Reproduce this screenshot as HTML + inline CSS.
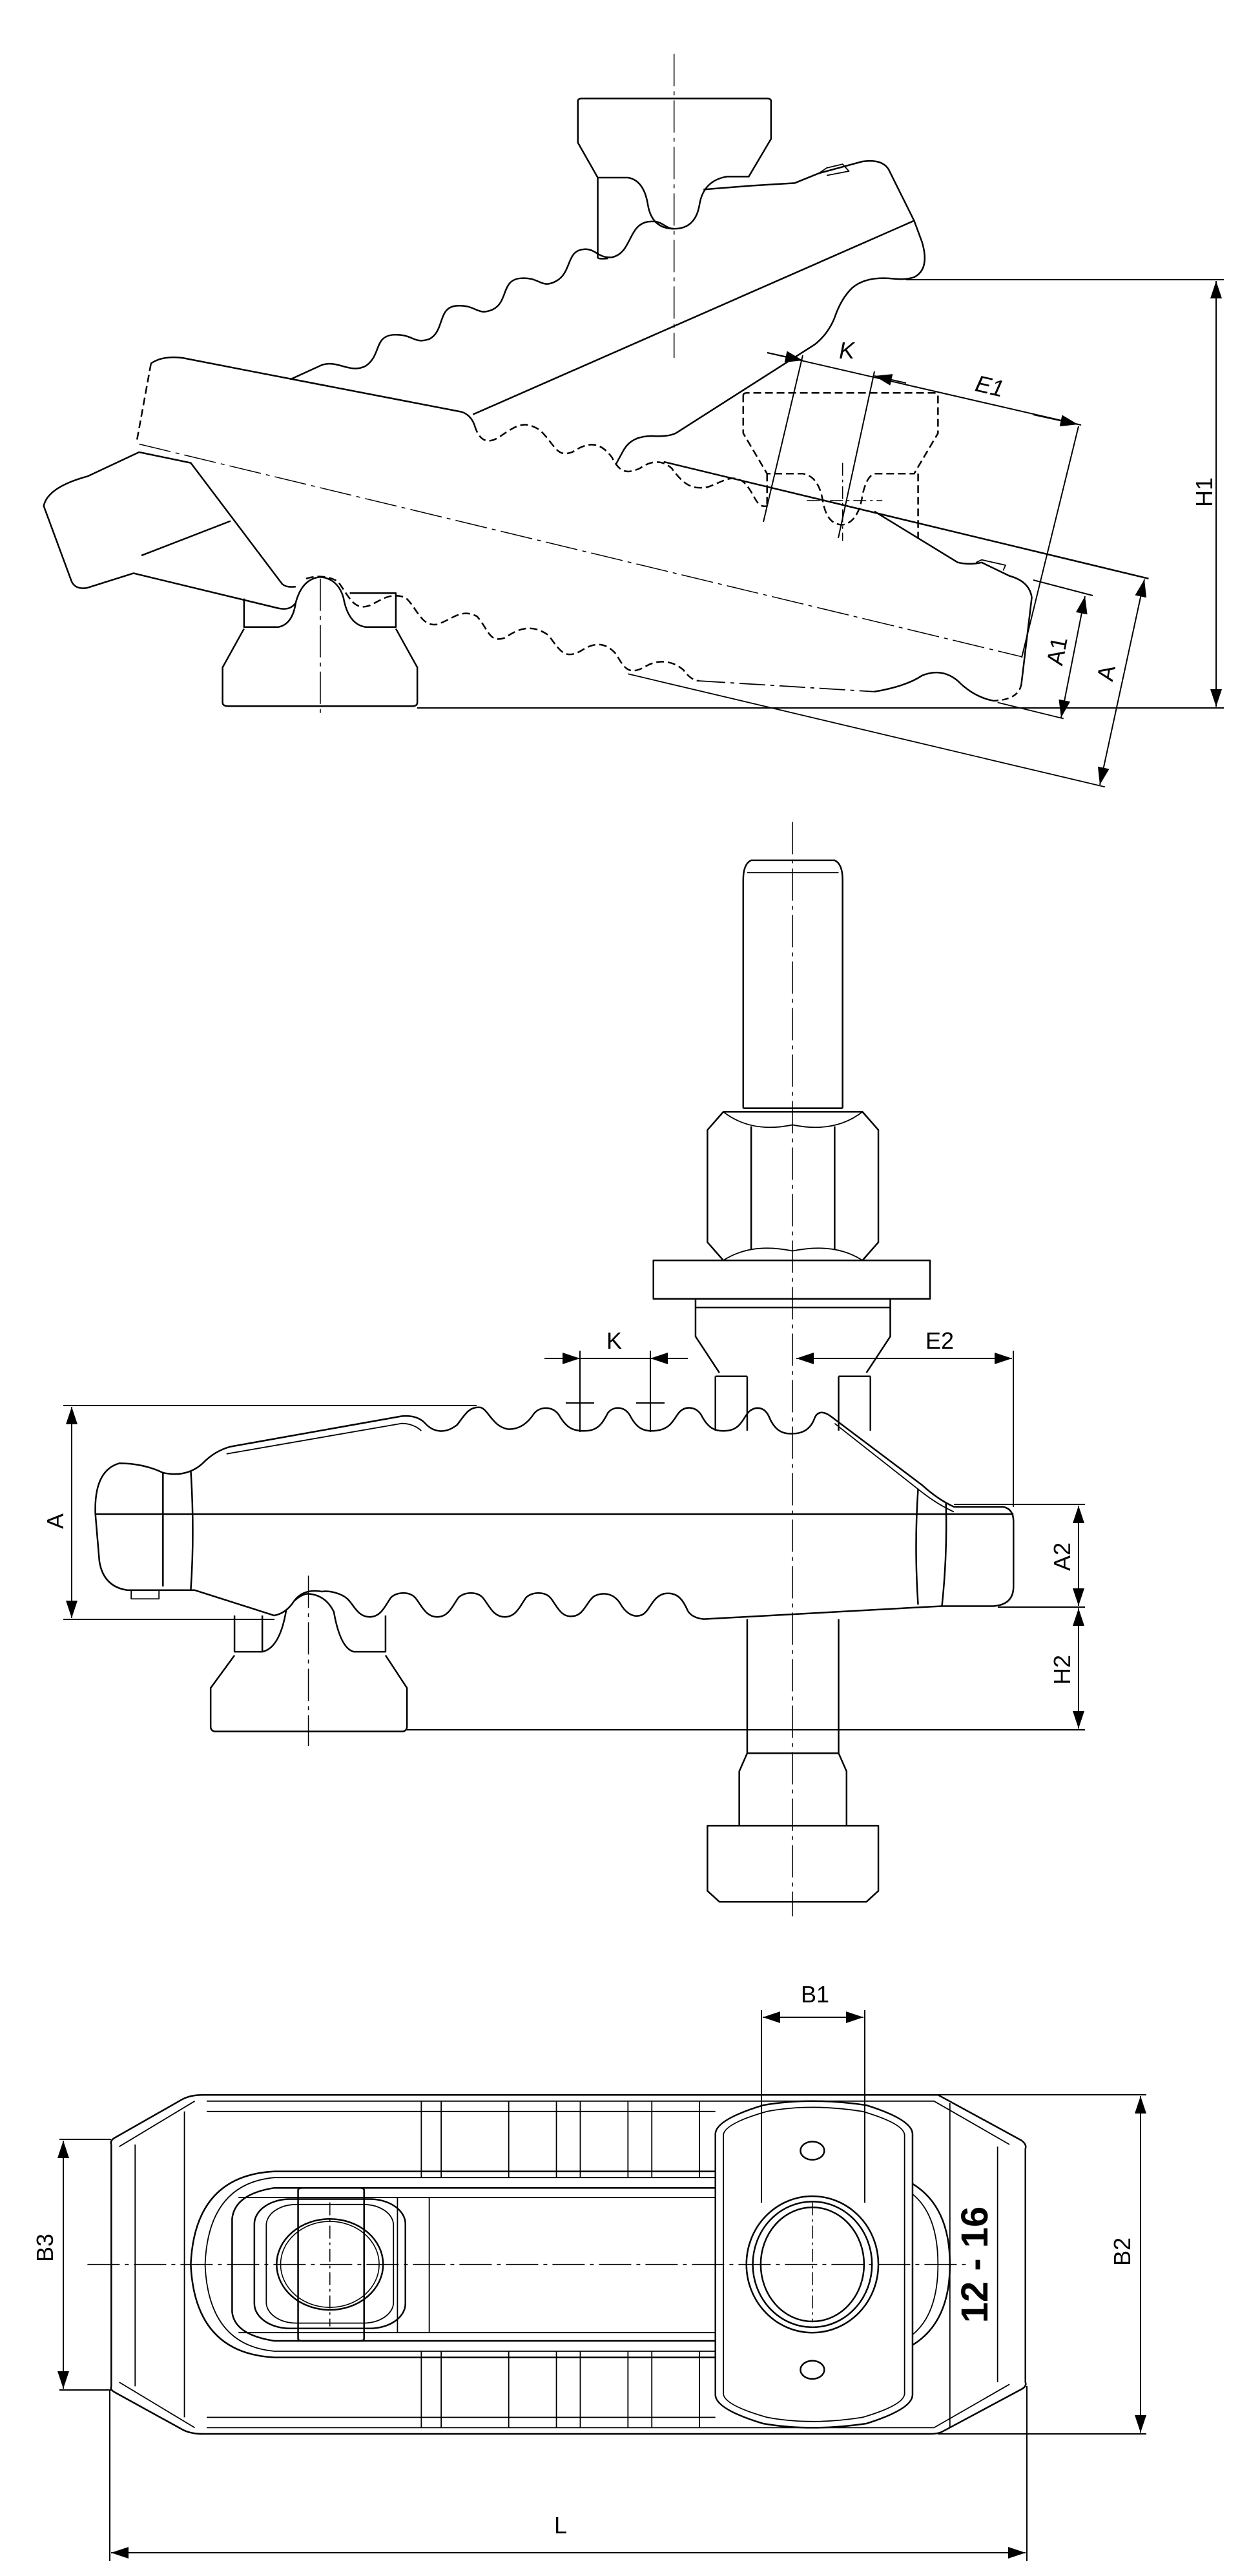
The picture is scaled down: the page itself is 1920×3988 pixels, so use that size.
<!DOCTYPE html>
<html><head><meta charset="utf-8"><style>
html,body{margin:0;padding:0;background:#fff;}
svg{display:block;}
text{font-family:"Liberation Sans",sans-serif;fill:#000;}
g.s *{vector-effect:non-scaling-stroke;}
</style></head><body>
<svg width="1920" height="3988" viewBox="0 0 1920 3988" xmlns="http://www.w3.org/2000/svg">
<defs>
<marker id="ar" viewBox="0 0 12 8" refX="12" refY="4" markerWidth="14" markerHeight="9" orient="auto-start-reverse" markerUnits="strokeWidth"><path d="M0,0 L12,4 L0,8 z" fill="#000"/></marker>
</defs>
<rect width="1920" height="3988" fill="#fff"/>

<!-- SECTION 1 -->
<g class="s" transform="matrix(1.2308 0 0 0.8333 0 0)" fill="none" stroke="#000" stroke-width="2.5" stroke-linejoin="round">
 <path d="M727,188 Q727,183 732,183 H965 Q970,183 970,188 V258 L942,328 H915 Q885,335 880,380 Q875,425 848,425 Q820,425 815,380 Q810,335 790,330 H752 L727,265 Z"/>
 <path d="M752,330 V478 Q752,482 765,480"/>
 <line x1="848" y1="100" x2="848" y2="665" stroke-width="1.5" stroke-dasharray="50,8,6,8"/>
 <path d="M365,705 L405,678 C425,668 440,695 460,680 C480,660 470,625 495,622 C520,620 520,640 540,630 C560,615 550,570 575,568 C600,566 600,588 620,575 C640,560 630,520 655,517 C680,514 680,538 700,522 C720,505 712,465 735,463 C750,462 752,480 770,478 C795,470 790,418 815,412 C835,408 835,425 848,425"/>
 <path d="M885,352 L945,345 L1000,340 L1030,322 L1085,300 Q1110,295 1118,315 L1150,410 L1160,450 Q1170,500 1150,515 Q1140,520 1125,518 Q1090,512 1072,535 Q1058,555 1050,590 Q1042,620 1025,640 L850,805 Q840,812 820,810 Q795,810 785,835 L775,862"/>
 <path d="M1030,322 L1040,312 L1060,305 L1068,318 L1040,326" stroke-width="1.8"/>
 <line x1="595" y1="770" x2="1150" y2="410"/>
 <path d="M310,688 L580,765 Q592,770 597,790"/>
 <path d="M597,790 C605,830 620,820 630,810 C650,790 660,780 680,800 C700,830 700,850 720,840 C740,820 755,820 770,850 C780,880 790,880 805,870 C815,860 830,850 845,870 C860,900 870,910 890,905 C910,895 920,880 935,895 C950,915 950,945 965,940" stroke-dasharray="12,6"/>
 <path d="M190,675 Q205,660 230,665 L310,688"/>
 <path d="M190,675 L172,820" stroke-dasharray="12,6"/>
 <path d="M175,840 L110,885 Q60,905 55,940 L90,1080 Q95,1096 110,1092 L168,1065 L350,1130 Q365,1135 372,1120"/>
 <path d="M175,840 L240,860 L355,1085 Q360,1092 372,1090"/>
 <line x1="290" y1="968" x2="178" y2="1032"/>
 <line x1="175" y1="825" x2="1285" y2="1220" stroke-width="1.5" stroke-dasharray="50,8,6,8"/>
 <line x1="835" y1="858" x2="1445" y2="1075"/>
 <path d="M1100,950 L1205,1045 Q1220,1050 1235,1045 L1270,1070 Q1295,1080 1298,1110 L1285,1270"/>
 <path d="M1285,1270 Q1282,1300 1250,1302" stroke-dasharray="10,6"/>
 <path d="M1228,1045 L1235,1040 L1265,1050 L1262,1060" stroke-width="1.8"/>
 <path d="M385,1075 C395,1070 410,1068 425,1080 C440,1110 445,1135 465,1125 C480,1115 490,1100 510,1110 C525,1130 530,1165 550,1160 C570,1150 580,1130 600,1145 C615,1170 615,1195 635,1185 C655,1165 670,1160 690,1180 C705,1210 710,1225 730,1210 C745,1195 760,1190 775,1215 C785,1240 790,1255 810,1240 C825,1225 845,1225 860,1245 Q870,1265 880,1265" stroke-dasharray="12,6"/>
 <path d="M880,1265 L1100,1285" stroke-width="1.8" stroke-dasharray="40,8,6,8"/>
 <path d="M1100,1285 Q1140,1275 1160,1255 Q1185,1240 1205,1265 Q1225,1295 1250,1302"/>
 <line x1="790" y1="1252" x2="1390" y2="1462" stroke-width="1.8"/>
 <line x1="1255" y1="1305" x2="1338" y2="1335" stroke-width="1.8"/>
 <path d="M935,735 Q935,730 940,730 H1175 Q1180,730 1180,735 V805 L1150,880 H1100 Q1090,885 1085,920 Q1080,970 1060,975 Q1040,975 1035,930 Q1030,885 1010,880 H965 L935,805 Z" stroke-dasharray="12,6"/>
 <path d="M965,880 V940 M1155,880 V1000" stroke-dasharray="12,6"/>
 <line x1="1060" y1="860" x2="1060" y2="1005" stroke-width="1.5" stroke-dasharray="20,6,4,6"/>
 <line x1="1015" y1="930" x2="1110" y2="930" stroke-width="1.5" stroke-dasharray="20,6,4,6"/>
 <path d="M372,1120 Q380,1075 403,1072 Q425,1075 432,1110 Q438,1160 460,1165 H498 V1102 H440"/>
 <path d="M372,1120 Q368,1160 350,1165 H307 V1112"/>
 <path d="M307,1168 L280,1240 V1305 Q280,1312 288,1312 H518 Q525,1312 525,1305 V1240 L498,1168"/>
 <line x1="403" y1="1075" x2="403" y2="1325" stroke-width="1.5" stroke-dasharray="50,8,6,8"/>
</g>
<g fill="none" stroke="#000" stroke-width="2">
 <line x1="1403" y1="433" x2="1895" y2="433"/>
 <line x1="646" y1="1096" x2="1895" y2="1096"/>
 <line x1="1883" y1="435" x2="1883" y2="1094" marker-start="url(#ar)" marker-end="url(#ar)"/>
 <line x1="1188" y1="546" x2="1674" y2="658"/>
 <line x1="1188" y1="546" x2="1243" y2="558" marker-end="url(#ar)"/>
 <line x1="1403" y1="593" x2="1354" y2="582" marker-end="url(#ar)"/>
 <line x1="1600" y1="642" x2="1669" y2="657" marker-end="url(#ar)"/>
 <line x1="1243" y1="550" x2="1182" y2="808"/>
 <line x1="1354" y1="575" x2="1298" y2="833"/>
 <line x1="1670" y1="660" x2="1582" y2="1018"/>
 <line x1="1600" y1="898" x2="1692" y2="922"/>
 <line x1="1680" y1="923" x2="1643" y2="1111" marker-start="url(#ar)" marker-end="url(#ar)"/>
 <line x1="1772" y1="897" x2="1703" y2="1215" marker-start="url(#ar)" marker-end="url(#ar)"/>
</g>
<g font-size="36">
 <text x="1865" y="762" text-anchor="middle" transform="rotate(-90 1865 762)" dy="12">H1</text>
 <text x="1311" y="555" text-anchor="middle" font-style="italic">K</text>
 <text x="1532" y="610" text-anchor="middle" font-style="italic" transform="rotate(13 1532 600)">E1</text>
 <text x="1637" y="1008" text-anchor="middle" dy="12" transform="rotate(-79 1637 1008)">A1</text>
 <text x="1713" y="1042" text-anchor="middle" dy="12" transform="rotate(-79 1713 1042)">A</text>
</g>

<!-- SECTION 2 -->
<g class="s" transform="matrix(1.2308 0 0 1.122 0 1250)" fill="none" stroke="#000" stroke-width="2.5" stroke-linejoin="round">
 <line x1="997" y1="20" x2="997" y2="1530" stroke-width="1.5" stroke-dasharray="50,8,6,8"/>
 <path d="M935,415 V100 Q935,78 945,73 H1050 Q1060,78 1060,100 V415"/>
 <line x1="940" y1="90" x2="1055" y2="90" stroke-width="1.8"/>
 <path d="M935,415 H1060"/>
 <path d="M890,445 L910,420 H1085 L1105,445 V600 L1085,625 H910 L890,600 Z"/>
 <path d="M945,440 V610 M1050,440 V610"/>
 <path d="M910,420 Q945,450 997,438 Q1050,450 1085,420 M910,625 Q945,600 997,612 Q1050,600 1085,625" stroke-width="1.8"/>
 <rect x="822" y="625" width="348" height="53"/>
 <path d="M875,678 V730 L905,780 M1120,678 V730 L1090,780 M875,690 H1120"/>
 <path d="M900,785 V860 M940,785 V860 M1055,785 V860 M1095,785 V860 M900,785 H940 M1055,785 H1095"/>
 <path d="M120,975 Q118,915 150,905 Q180,905 205,918 Q235,925 255,905 Q270,888 290,882 L505,840 Q525,838 535,850 C545,862 560,865 575,852 C585,838 590,826 605,828 C615,832 620,855 640,858 C655,858 665,848 672,836 C680,826 695,826 703,838 C712,855 720,862 740,860 C755,858 760,845 765,835 C772,826 785,826 792,838 C800,855 808,862 825,860 C845,858 848,842 855,834 C862,826 875,826 882,838 C890,855 898,862 915,860 C932,858 935,842 942,834 C950,826 962,826 968,842 C975,860 985,865 997,864 C1010,864 1020,858 1025,842 C1030,830 1040,836 1045,840 L1160,935 Q1180,955 1200,965 H1262 Q1275,968 1275,985 V1075 Q1275,1100 1250,1102 L1185,1102 L885,1120 Q870,1118 865,1108 C858,1090 850,1082 835,1085 C820,1090 818,1108 808,1114 C795,1120 785,1108 780,1098 C772,1085 760,1082 748,1088 C738,1095 735,1115 720,1116 C705,1118 700,1100 692,1090 C685,1082 670,1082 662,1090 C655,1100 650,1117 635,1117 C620,1117 615,1100 607,1090 C600,1082 585,1082 577,1090 C570,1100 565,1117 550,1117 C535,1117 530,1100 522,1090 C515,1082 500,1082 492,1090 C485,1100 480,1117 465,1117 C450,1117 445,1100 437,1092 C430,1085 415,1080 405,1082 C395,1080 380,1080 370,1095 Q360,1112 345,1115 L245,1080 Q200,1080 160,1080 Q130,1075 125,1040 Z"/>
 <path d="M285,892 L505,850 Q520,850 530,860" stroke-width="1.8"/>
 <path d="M1050,850 L1160,945 Q1180,962 1200,972" stroke-width="1.8"/>
 <line x1="120" y1="975" x2="1275" y2="975"/>
 <path d="M205,918 Q205,1000 205,1075 M240,915 Q245,1000 240,1080 M1155,940 Q1150,1020 1155,1100 M1190,960 Q1192,1030 1185,1102"/>
 <path d="M165,1080 L165,1092 L200,1092 L200,1080" stroke-width="1.8"/>
 <path d="M370,1095 Q380,1085 388,1085 Q410,1087 420,1110 Q428,1160 445,1165 H485 V1115 M330,1115 V1165 H295 V1115 M330,1165 Q352,1160 360,1108"/>
 <path d="M295,1170 L265,1215 V1268 Q265,1275 272,1275 H505 Q512,1275 512,1268 V1215 L485,1170"/>
 <line x1="388" y1="1060" x2="388" y2="1295" stroke-width="1.5" stroke-dasharray="50,8,6,8"/>
 <path d="M940,1120 V1305 L930,1330 V1405 H890 V1495 L905,1510 H1090 L1105,1495 V1405 H1065 V1330 L1055,1305 V1120"/>
 <path d="M940,1305 H1055 M930,1405 H1065"/>
</g>
<g fill="none" stroke="#000" stroke-width="2">
 <line x1="98" y1="2176" x2="738" y2="2176"/>
 <line x1="98" y1="2507" x2="425" y2="2507"/>
 <line x1="111" y1="2178" x2="111" y2="2505" marker-start="url(#ar)" marker-end="url(#ar)"/>
 <line x1="843" y1="2103" x2="898" y2="2103" marker-end="url(#ar)"/>
 <line x1="898" y1="2103" x2="1007" y2="2103"/>
 <line x1="1065" y1="2103" x2="1007" y2="2103" marker-end="url(#ar)"/>
 <line x1="898" y1="2091" x2="898" y2="2217"/><line x1="1007" y1="2091" x2="1007" y2="2217"/>
 <line x1="876" y1="2172" x2="920" y2="2172"/><line x1="985" y1="2172" x2="1029" y2="2172"/>
 <line x1="1233" y1="2103" x2="1567" y2="2103" marker-start="url(#ar)" marker-end="url(#ar)"/>
 <line x1="1569" y1="2091" x2="1569" y2="2333"/>
 <line x1="1477" y1="2329" x2="1680" y2="2329"/>
 <line x1="1545" y1="2488" x2="1680" y2="2488"/>
 <line x1="630" y1="2678" x2="1680" y2="2678"/>
 <line x1="1670" y1="2331" x2="1670" y2="2486" marker-start="url(#ar)" marker-end="url(#ar)"/>
 <line x1="1670" y1="2490" x2="1670" y2="2676" marker-start="url(#ar)" marker-end="url(#ar)"/>
</g>
<g font-size="36">
 <text x="951" y="2088" text-anchor="middle">K</text>
 <text x="1455" y="2088" text-anchor="middle">E2</text>
 <text x="86" y="2355" text-anchor="middle" dy="12" transform="rotate(-90 86 2355)">A</text>
 <text x="1645" y="2410" text-anchor="middle" dy="12" transform="rotate(-90 1645 2410)">A2</text>
 <text x="1645" y="2585" text-anchor="middle" dy="12" transform="rotate(-90 1645 2585)">H2</text>
</g>

<!-- SECTION 3 -->
<g class="s" transform="matrix(1.2308 0 0 0.64 0 3000)" fill="none" stroke="#000" stroke-width="2.5" stroke-linejoin="round">
 <path d="M255,380 H1180 L1285,490 Q1292,500 1290,510 V1075 Q1292,1085 1285,1092 L1185,1195 Q1180,1200 1170,1200 H255 Q240,1200 230,1190 L145,1100 Q138,1093 140,1085 V500 Q138,490 145,483 L230,390 Q240,380 255,380 Z"/>
 <path d="M260,395 H1175 L1270,500 M260,1185 H1175 L1270,1080 M245,395 L150,505 M245,1185 L150,1075" stroke-width="1.8"/>
 <path d="M140,510 V1075 M170,500 V1085 M1255,505 V1075 M1195,400 V1185" stroke-width="1.8"/>
 <path d="M232,420 V1160 M260,420 H900 M260,1160 H900" stroke-width="1.8"/>
 <g stroke-width="1.8">
 <path d="M530,395 V580 M555,395 V580 M640,395 V580 M700,395 V580 M730,395 V580 M790,395 V580 M820,395 V580 M880,395 V580"/>
 <path d="M530,1000 V1185 M555,1000 V1185 M640,1000 V1185 M700,1000 V1185 M730,1000 V1185 M790,1000 V1185 M820,1000 V1185 M880,1000 V1185"/>
 </g>
 <path d="M905,565 H345 Q245,575 240,790 Q245,1005 345,1015 H905"/>
 <path d="M905,580 H345 Q262,595 258,790 Q262,985 345,1000 H905" stroke-width="1.8"/>
 <path d="M905,605 H345 Q295,620 292,680 V905 Q295,960 345,975 H905"/>
 <path d="M300,628 H905 M300,955 H905 M540,628 V955 M500,628 V955" stroke-width="1.8"/>
 <rect x="320" y="632" width="190" height="313" rx="45" ry="60"/>
 <rect x="335" y="645" width="160" height="287" rx="38" ry="50" stroke-width="1.8"/>
 <rect x="375" y="605" width="83" height="370" rx="5"/>
 <ellipse cx="415" cy="790" rx="67" ry="110"/>
 <ellipse cx="415" cy="790" rx="62" ry="104" stroke-width="1.6"/>
 <line x1="415" y1="640" x2="415" y2="940" stroke-width="1.5" stroke-dasharray="20,6,4,6"/>
 <path d="M1148,595 Q1195,650 1195,790 Q1195,930 1148,985"/>
 <path d="M1148,620 Q1180,670 1180,790 Q1180,910 1148,960" stroke-width="1.8"/>
 <path d="M900,475 Q900,440 960,405 Q1020,385 1090,405 Q1148,440 1148,475 V1105 Q1148,1140 1090,1175 Q1020,1195 960,1175 Q900,1140 900,1105 Z" fill="#fff"/>
 <path d="M910,478 Q910,450 965,420 Q1020,400 1085,420 Q1138,450 1138,478 V1102 Q1138,1130 1085,1160 Q1020,1180 965,1160 Q910,1130 910,1102 Z" stroke-width="1.8"/>
 <ellipse cx="1022" cy="515" rx="15" ry="22"/>
 <ellipse cx="1022" cy="1045" rx="15" ry="22"/>
 <ellipse cx="1022" cy="790" rx="83" ry="165"/>
 <ellipse cx="1022" cy="790" rx="75" ry="152"/>
 <ellipse cx="1022" cy="790" rx="65" ry="138"/>
 <line x1="1022" y1="640" x2="1022" y2="930" stroke-width="1.5" stroke-dasharray="20,6,4,6"/>
 <line x1="110" y1="790" x2="1215" y2="790" stroke-width="1.5" stroke-dasharray="50,8,6,8"/>
</g>
<g fill="none" stroke="#000" stroke-width="2">
 <line x1="1179" y1="3112" x2="1179" y2="3410"/>
 <line x1="1339" y1="3112" x2="1339" y2="3410"/>
 <line x1="1181" y1="3123" x2="1337" y2="3123" marker-start="url(#ar)" marker-end="url(#ar)"/>
 <line x1="1452" y1="3243" x2="1775" y2="3243"/>
 <line x1="1452" y1="3768" x2="1775" y2="3768"/>
 <line x1="1766" y1="3245" x2="1766" y2="3766" marker-start="url(#ar)" marker-end="url(#ar)"/>
 <line x1="92" y1="3312" x2="172" y2="3312"/>
 <line x1="92" y1="3700" x2="172" y2="3700"/>
 <line x1="98" y1="3314" x2="98" y2="3698" marker-start="url(#ar)" marker-end="url(#ar)"/>
 <line x1="170" y1="3700" x2="170" y2="3965"/>
 <line x1="1590" y1="3694" x2="1590" y2="3965"/>
 <line x1="172" y1="3952" x2="1588" y2="3952" marker-start="url(#ar)" marker-end="url(#ar)"/>
</g>
<g font-size="36">
 <text x="1262" y="3100" text-anchor="middle">B1</text>
 <text x="1738" y="3486" text-anchor="middle" dy="12" transform="rotate(-90 1738 3486)">B2</text>
 <text x="70" y="3480" text-anchor="middle" dy="12" transform="rotate(-90 70 3480)">B3</text>
 <text x="868" y="3922" text-anchor="middle">L</text>
 <text x="1509" y="3506" text-anchor="middle" dy="20" font-size="58" font-weight="bold" transform="rotate(-90 1509 3506)">12 - 16</text>
</g>
</svg>
</body></html>
